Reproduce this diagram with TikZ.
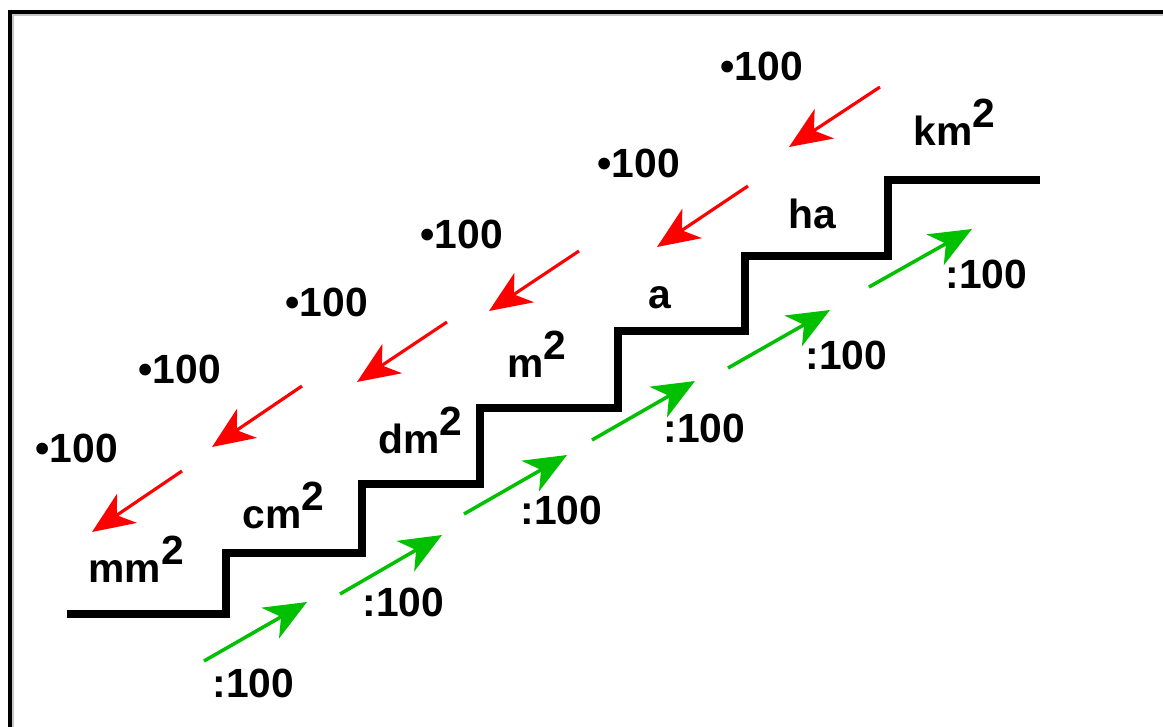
\documentclass[tikz,border=0pt]{standalone}
\usepackage{fontspec}
\setmainfont{Liberation Sans}
\usetikzlibrary{arrows.meta}
\definecolor{gruen}{RGB}{0,192,0}
\newcommand{\hoch}{\raisebox{0.42em}{2}}

\begin{document}
\begin{tikzpicture}[x=0.01cm,y=-0.01cm,
        >={Stealth[length=12pt,width=10pt,inset=3.5pt]},
        font=\fontsize{11.6}{13}\selectfont\bfseries,
        lbl/.style={anchor=base west,inner sep=0pt},
        mal/.style={->,red,line width=0.9pt},
        durch/.style={->,gruen,line width=1pt}]
    \useasboundingbox (0,0) rectangle (1163,727);
    % Rahmen
    \draw[gray!45,line width=0.4pt] (13,727) -- (13,15) -- (1163,15);
    \draw[line width=1.1pt] (10,727) -- (10,12) -- (1163,12);
    % Treppe
    \draw[line width=2pt] (67,614) -- (226,614) -- (226,553) -- (362,553)
        -- (362,484) -- (480,484) -- (480,408) -- (618,408) -- (618,331)
        -- (745,331) -- (745,256) -- (888,256) -- (888,180) -- (1040,180);
    % Einheiten
    \node[lbl] (mm) at (88,582) {mm\hoch};
    \node[lbl] (cm) at (242,528) {cm\hoch};
    \node[lbl] (dm) at (378,453) {dm\hoch};
    \node[lbl] (m) at (507,377) {m\hoch};
    \node[lbl] (a) at (648,308) {a};
    \node[lbl] (ha) at (788,228) {ha};
    \node[lbl] (km) at (913,145) {km\hoch};
    % nach unten: mal 100
    \foreach \s/\e in {{(880,87)}/{(789,147)}, {(748,186)}/{(657,247)},
                       {(579,251)}/{(489,311)}, {(447,322)}/{(357,382)},
                       {(302,386)}/{(212,447)}, {(182,471)}/{(92,532)}}
        \draw[mal] \s -- \e;
    \node[lbl] (mal1) at (35,462) {•100};
    \node[lbl] (mal2) at (138,383) {•100};
    \node[lbl] (mal3) at (285,316) {•100};
    \node[lbl] (mal4) at (420,248) {•100};
    \node[lbl] (mal5) at (597,177) {•100};
    \node[lbl] (mal6) at (720,80) {•100};
    % nach oben: durch 100
    \foreach \s/\e in {{(204,661)}/{(307,602)}, {(340,594)}/{(442,535)},
                       {(464,514)}/{(567,455)}, {(592,440)}/{(695,381)},
                       {(728,368)}/{(830,310)}, {(869,287)}/{(972,229)}}
        \draw[durch] \s -- \e;
    \node[lbl] (durch1) at (212,697) {:100};
    \node[lbl] (durch2) at (362,616) {:100};
    \node[lbl] (durch3) at (520,524) {:100};
    \node[lbl] (durch4) at (663,442) {:100};
    \node[lbl] (durch5) at (805,369) {:100};
    \node[lbl] (durch6) at (945,288) {:100};
\end{tikzpicture}
\end{document}
